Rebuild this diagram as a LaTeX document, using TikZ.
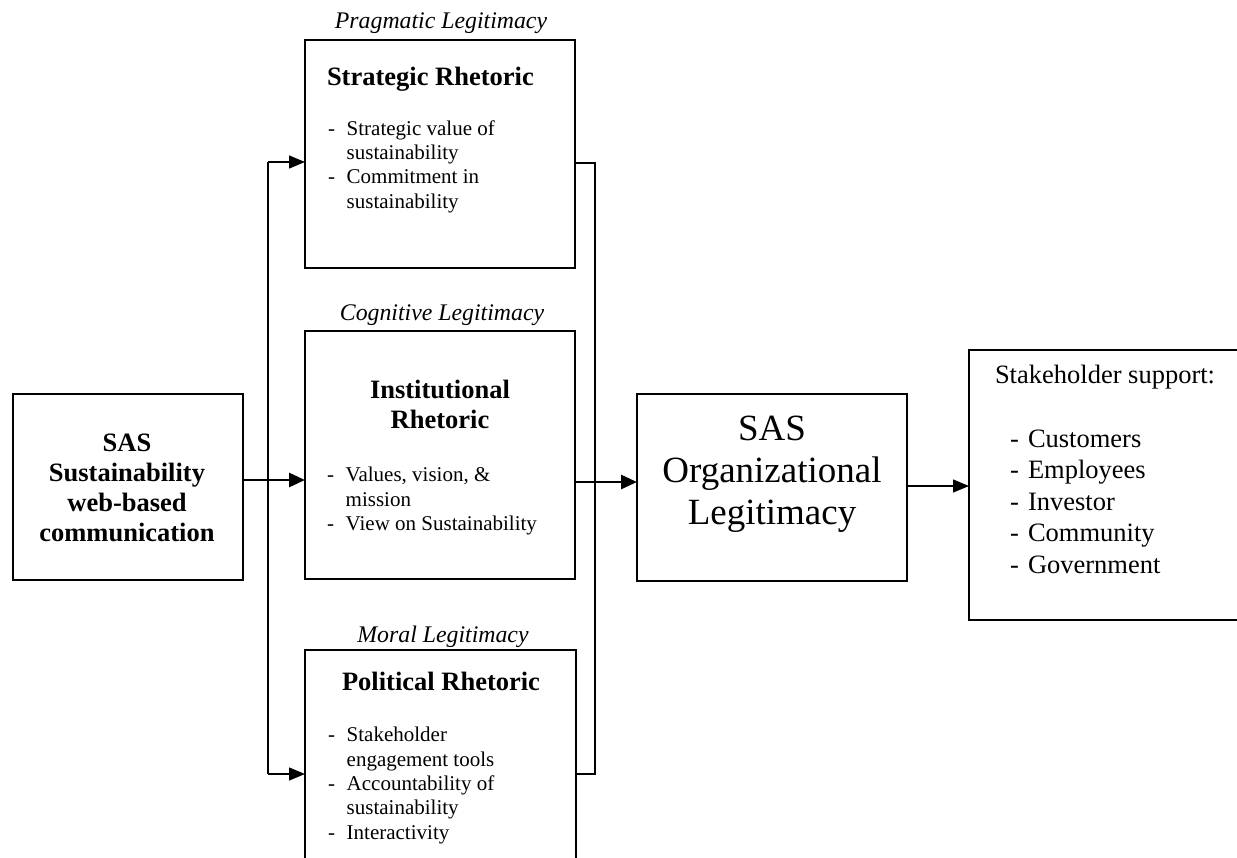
\documentclass[tikz,border=0pt]{standalone}
\usepackage{fontspec}
\setmainfont{Liberation Serif}
\usetikzlibrary{arrows.meta}
\begin{document}
\begin{tikzpicture}[x=1pt,y=-1pt,
  box/.style={draw,line width=2.8pt,rectangle,inner sep=0pt,outer sep=0pt},
  thinline/.style={line width=1.3pt},
  thinarrow/.style={line width=1.3pt,-{Triangle[length=16pt,width=13pt]}},
  thickarrow/.style={line width=2.8pt,-{Triangle[length=16pt,width=14pt]}},
  lbl/.style={inner sep=0pt,outer sep=0pt,font=\fontsize{23.8}{27}\selectfont\itshape,anchor=base},
  head/.style={inner sep=0pt,outer sep=0pt,font=\fontsize{26.5}{30}\selectfont\bfseries,align=center,anchor=base},
  body/.style={inner sep=0pt,outer sep=0pt,font=\fontsize{21}{24.4}\selectfont,anchor=base west},
  stk/.style={inner sep=0pt,outer sep=0pt,font=\fontsize{26.5}{31.5}\selectfont,anchor=base west}]
\useasboundingbox (0,0) rectangle (1237,857);
\clip (0,0) rectangle (1237,857);
% boxes
\node[box,minimum width=270pt,minimum height=228pt] (strat) at (440,154) {};
\node[box,minimum width=270pt,minimum height=248pt] (inst) at (440,455) {};
\node[box,minimum width=271pt,minimum height=250pt] (pol) at (440.5,775) {};
\node[box,minimum width=230pt,minimum height=186pt] (sas) at (128,487) {};
\node[box,minimum width=270pt,minimum height=187pt] (org) at (772,487.5) {};
\node[box,minimum width=291pt,minimum height=270pt] (stake) at (1114.5,485) {};
% italic labels
\node[lbl] (prag) at (441,28) {Pragmatic Legitimacy};
\node[lbl] (cogn) at (442,320.5) {Cognitive Legitimacy};
\node[lbl] (moral) at (443,642) {Moral Legitimacy};
% headings (base anchor = last line)
\node[head,anchor=base west] (strath) at (327,85) {Strategic Rhetoric};
\node[head] (insth) at (440,428) {Institutional\\Rhetoric};
\node[head] (polh) at (441,690) {Political Rhetoric};
\node[head] (sast) at (127,541.7) {SAS\\Sustainability\\web-based\\communication};
\node[inner sep=0pt,font=\fontsize{37}{42}\selectfont,align=center,anchor=base] (orgt) at (772,524) {SAS\\Organizational\\Legitimacy};
% bodies
\node[body] (stratb) at (328,135) {\begin{tabular}[t]{@{}p{18.7pt}@{}l@{}}-&Strategic value of\\ &sustainability\\ -&Commitment in\\ &sustainability\end{tabular}};
\node[body] (instb) at (327,481.7) {\begin{tabular}[t]{@{}p{18.7pt}@{}l@{}}-&Values, vision, \&\\ &mission\\ -&View on Sustainability\end{tabular}};
\node[body] (polb) at (328,741.7) {\begin{tabular}[t]{@{}p{18.7pt}@{}l@{}}-&Stakeholder\\ &engagement tools\\ -&Accountability of\\ &sustainability\\ -&Interactivity\end{tabular}};
\node[stk] (stkh) at (995,383) {Stakeholder support:};
\node[stk] (stkb) at (1010,447) {\begin{tabular}[t]{@{}p{18pt}@{}l@{}}-&Customers\\ -&Employees\\ -&Investor\\ -&Community\\ -&Government\end{tabular}};
% connector coordinates
\coordinate (r1) at (268,162);
\coordinate (r2) at (268,774);
\coordinate (rb1) at (595,163);
\coordinate (rb2) at (595,774);
\coordinate (ya) at (0,480);
\coordinate (yb) at (0,482);
\coordinate (yc) at (0,486);
% connectors
\draw[thinline] (r1) -- (r2);
\draw[thinarrow] (r1) -- (strat.west |- r1);
\draw[thinarrow] (r2) -- (pol.west |- r2);
\draw[thinline] (strat.east |- rb1) -- (rb1) -- (rb2) -- (pol.east |- rb2);
\draw[thickarrow] (sas.east |- ya) -- (inst.west |- ya);
\draw[thickarrow] (inst.east |- yb) -- (org.west |- yb);
\draw[thinarrow] (org.east |- yc) -- (stake.west |- yc);
\end{tikzpicture}
\end{document}
